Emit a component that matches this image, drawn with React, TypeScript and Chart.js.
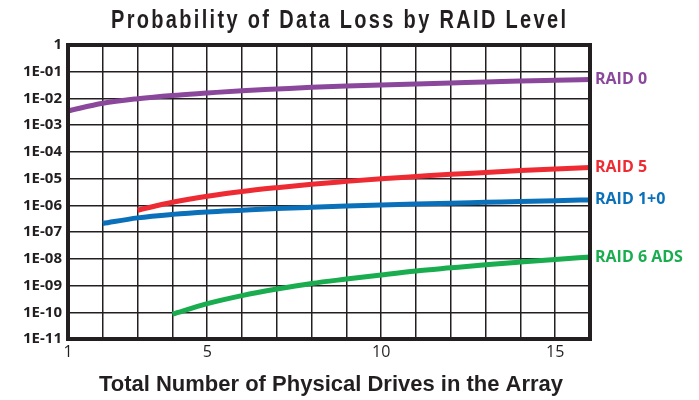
import React, { useEffect, useRef } from "react";
import { Chart, registerables } from "chart.js";

Chart.register(...registerables);

const driveCounts = [1, 2, 3, 4, 5, 6, 7, 8, 9, 10, 11, 12, 13, 14, 15, 16];
const raid0 = [0.0034, 0.0066, 0.0098, 0.013, 0.016, 0.0195, 0.0225, 0.026, 0.029, 0.032, 0.035, 0.038, 0.041, 0.045, 0.048, 0.051];
const raid5 = [null, null, 6.6e-7, 1.3e-6, 2.2e-6, 3.3e-6, 4.6e-6, 6.2e-6, 7.9e-6, 9.9e-6, 1.2e-5, 1.45e-5, 1.7e-5, 2.0e-5, 2.3e-5, 2.6e-5];
const raid10 = [null, 2.1e-7, 3.4e-7, 4.6e-7, 5.7e-7, 6.6e-7, 7.6e-7, 8.5e-7, 9.4e-7, 1.03e-6, 1.12e-6, 1.21e-6, 1.3e-6, 1.4e-6, 1.5e-6, 1.6e-6];
const raid6 = [null, null, null, 8.5e-11, 2.1e-10, 4.2e-10, 7.4e-10, 1.2e-9, 1.75e-9, 2.5e-9, 3.5e-9, 4.6e-9, 6.0e-9, 7.6e-9, 9.5e-9, 1.17e-8];
const seriesNames = ["RAID 0", "RAID 5", "RAID 1+0", "RAID 6 ADS"];
const seriesColors = ["#8B479B", "#EE2B33", "#0A70BA", "#19AD4F"];
const xTickLabels = [1, 5, 10, 15];
const yTickValues = [1, 1e-1, 1e-2, 1e-3, 1e-4, 1e-5, 1e-6, 1e-7, 1e-8, 1e-9, 1e-10, 1e-11];
const titleText = "Probability of Data Loss by RAID Level";
const xTitleText = "Total Number of Physical Drives in the Array";

function fmtY(v: number) {
  if (v >= 1) return "1";
  const e = Math.round(-Math.log10(v));
  return "1E-" + (e < 10 ? "0" + e : String(e));
}

export default function App() {
  const ref = useRef<HTMLCanvasElement>(null);
  useEffect(() => {
    const seriesData = [raid0, raid5, raid10, raid6];
    const decor = {
      id: "decor",
      afterDraw(chart: any) {
        const ctx = chart.ctx;
        const a = chart.chartArea;
        ctx.save();
        // frame
        ctx.strokeStyle = "#231F20";
        ctx.lineWidth = 4;
        ctx.strokeRect(a.left, a.top, a.right - a.left, a.bottom - a.top);
        // title (condensed + tracked)
        ctx.fillStyle = "#231F20";
        ctx.textAlign = "left";
        ctx.textBaseline = "alphabetic";
        ctx.font = "bold 25px 'Liberation Sans', Arial";
        (ctx as any).letterSpacing = "0px";
        const sx = 0.8;
        const w0 = ctx.measureText(titleText).width;
        const sp = Math.max(0, (455 / sx - w0) / (titleText.length - 1));
        ctx.save();
        ctx.translate(111, 28);
        ctx.scale(sx, 1);
        (ctx as any).letterSpacing = sp + "px";
        ctx.fillText(titleText, 0, 0);
        ctx.restore();
        (ctx as any).letterSpacing = "0px";
        // x title
        ctx.textAlign = "center";
        ctx.textBaseline = "middle";
        ctx.font = "bold 22px 'Liberation Sans', Arial";
        ctx.fillText(xTitleText, 331, 385);
        // series labels
        ctx.textAlign = "left";
        ctx.font = "bold 16px 'Open Sans', 'Liberation Sans'";
        const ys = chart.scales.y;
        seriesData.forEach((d, i) => {
          const v = d[d.length - 1] as number;
          const y = ys.getPixelForValue(v);
          ctx.fillStyle = seriesColors[i];
          ctx.fillText(seriesNames[i], 595, y);
        });
        ctx.restore();
      },
    };
    const chart = new Chart(ref.current!, {
      type: "line",
      data: {
        labels: driveCounts,
        datasets: seriesData.map((d, i) => ({
          label: seriesNames[i],
          data: driveCounts.map((x, j) => ({ x, y: d[j] as any })),
          borderColor: seriesColors[i],
          backgroundColor: seriesColors[i],
          borderWidth: 5,
          pointRadius: 0,
          cubicInterpolationMode: "monotone" as const,
          spanGaps: false,
        })),
      },
      options: {
        animation: false,
        responsive: false,
        maintainAspectRatio: false,
        layout: { padding: { top: 45, right: 109, left: 0, bottom: 0 } },
        plugins: { legend: { display: false }, title: { display: false }, tooltip: { enabled: false } },
        scales: {
          x: {
            type: "linear",
            min: 1,
            max: 16,
            afterFit: (s: any) => { s.height = 61; },
            afterBuildTicks: (s: any) => {
              s.ticks = driveCounts.map((v) => ({ value: v }));
            },
            ticks: {
              autoSkip: false,
              maxRotation: 0,
              padding: 4,
              color: "#231F20",
              font: { family: "'Open Sans', 'Liberation Sans'", size: 16 },
              callback: (v: any) => (xTickLabels.includes(Number(v)) ? String(v) : ""),
            },
            grid: { color: "#231F20", lineWidth: 1.5, drawTicks: false },
            border: { display: false },
          },
          y: {
            type: "logarithmic",
            min: 1e-11,
            max: 1,
            afterFit: (s: any) => { s.width = 68; },
            afterBuildTicks: (s: any) => {
              s.ticks = yTickValues.map((v) => ({ value: v }));
            },
            ticks: {
              autoSkip: false,
              padding: 6,
              color: "#231F20",
              font: { family: "'Open Sans', 'Liberation Sans'", size: 15, weight: "bold" },
              callback: (v: any) => fmtY(Number(v)),
            },
            grid: { color: "#231F20", lineWidth: 1.5, drawTicks: false },
            border: { display: false },
          },
        },
      } as any,
      plugins: [decor],
    });
    return () => chart.destroy();
  }, []);
  return (
    <div style={{ position: "fixed", left: 0, top: 0, width: 699, height: 400, background: "#fff" }}>
      <canvas ref={ref} width={699} height={400} style={{ width: 699, height: 400 }} />
    </div>
  );
}
